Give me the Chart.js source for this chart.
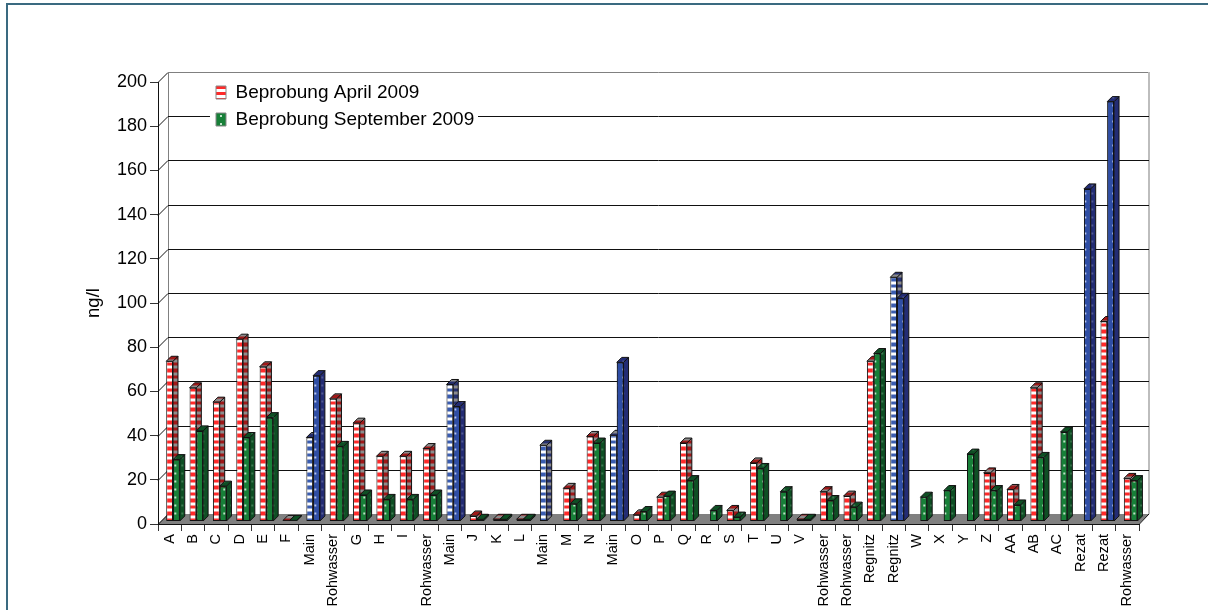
<!DOCTYPE html>
<html>
<head>
<meta charset="utf-8">
<style>
  html, body { margin: 0; padding: 0; background: #fff; overflow: hidden; }
  #wrap { position: relative; width: 1208px; height: 610px; overflow: hidden; }
  #frame { position: absolute; left: 6px; top: 3px; width: 1300px; height: 700px; border: 2px solid #3a6a80; }
  canvas { position: absolute; left: 0; top: 0; }
</style>
</head>
<body>
<div id="wrap">
  <div id="frame"></div>
  <canvas id="chart" width="1208" height="610"></canvas>
</div>
<script src="https://cdn.jsdelivr.net/npm/chart.js@4"></script>
<script>
const categories = ["A", "B", "C", "D", "E", "F", "Main", "Rohwasser", "G", "H", "I", "Rohwasser", "Main", "J", "K", "L", "Main", "M", "N", "Main", "O", "P", "Q", "R", "S", "T", "U", "V", "Rohwasser", "Rohwasser", "Regnitz", "Regnitz", "W", "X", "Y", "Z", "AA", "AB", "AC", "Rezat", "Rezat", "Rohwasser"];
const april = [72.5, 60.5, 54, 82.5, 70, 0.5, 38, 55.5, 44.5, 29.5, 29.5, 33, 62, 2.5, 1, 1, 34.5, 15, 38.5, 39, 3, 11, 35.5, null, 5, 26.5, null, 1, 13.5, 11.5, 72.5, 110.5, null, null, null, 22, 14.5, 60.5, null, null, 90.5, 19.5];
const september = [28, 41, 16, 38, 47, 0.5, 66, 34, 12, 10, 10, 12, 52, 1, 1, 1, null, 8, 35.5, 72, 4.5, 11.5, 18.5, 5, 2, 24, 13.5, 1, 9.5, 6.5, 76, 101, 11, 14, 30.5, 14, 7.5, 29, 40.5, 150.5, 190, 18.5];
const aprilBlue = [6, 12, 16, 19, 31];
const septemberBlue = [6, 12, 19, 31, 39, 40];
const yTicks = [0, 20, 40, 60, 80, 100, 120, 140, 160, 180, 200];

const FONT = "'Liberation Sans', Arial, sans-serif";
const WALL = 10;       // depth of the back wall
const BAR_DEPTH = 5;   // depth of a bar
const SHIFT_X = 3.3;   // bars stand a little inside the floor
const SHIFT_Y = -2.5;

function pattern(w, h, paint) {
  const c = document.createElement("canvas");
  c.width = w;
  c.height = h;
  paint(c.getContext("2d"));
  return document.getElementById("chart").getContext("2d").createPattern(c, "repeat");
}

// bands repeat every 6.5px in the reference, so the tile holds two of them
function stripes(a, b) {
  return pattern(1, 13, (p) => {
    p.fillStyle = a;
    p.fillRect(0, 0, 1, 13);
    p.fillStyle = b;
    p.fillRect(0, 1, 1, 3);
    p.fillRect(0, 7, 1, 4);
  });
}

function dots(base, dot) {
  return pattern(7, 8, (p) => {
    p.fillStyle = base;
    p.fillRect(0, 0, 7, 8);
    p.fillStyle = dot;
    p.fillRect(3, 3, 2, 2);
  });
}

const redFront = stripes("#ffffff", "#ff2a2a");
const redSide = stripes("#8c8c8c", "#a01818");
const blueFront = stripes("#ffffff", "#3a5cb0");
const blueSide = stripes("#8c8c8c", "#26306e");
const greenFront = dots("#178038", "#bfe3c8");
const greenSide = dots("#0e4f24", "#3f7a52");
const navyFront = dots("#2f4ea5", "#b8c6ee");
const navySide = dots("#232c74", "#515a92");

function fillFor(datasetIndex, i) {
  if (datasetIndex === 0) return aprilBlue.includes(i) ? blueFront : redFront;
  return septemberBlue.includes(i) ? navyFront : greenFront;
}

function sideFor(datasetIndex, i) {
  if (datasetIndex === 0) return aprilBlue.includes(i) ? blueSide : redSide;
  return septemberBlue.includes(i) ? navySide : greenSide;
}

function face(ctx, pts, fill) {
  ctx.beginPath();
  pts.forEach((p, k) => (k ? ctx.lineTo(p[0], p[1]) : ctx.moveTo(p[0], p[1])));
  ctx.closePath();
  ctx.fillStyle = fill;
  ctx.fill();
  ctx.stroke();
}

function drawDepth(chart, idx) {
  const { ctx } = chart;
  ctx.save();
  ctx.strokeStyle = "#111";
  ctx.lineWidth = 1;
  chart.getDatasetMeta(idx).data.forEach((bar, i) => {
    if (chart.data.datasets[idx].data[i] === null) return;
    const half = bar.width / 2;
    const l = bar.x - half;
    const r = bar.x + half;
    const fill = sideFor(idx, i);
    face(ctx, [[r, bar.y], [r + BAR_DEPTH, bar.y - BAR_DEPTH], [r + BAR_DEPTH, bar.base - BAR_DEPTH], [r, bar.base]], fill);
    face(ctx, [[l, bar.y], [l + BAR_DEPTH, bar.y - BAR_DEPTH], [r + BAR_DEPTH, bar.y - BAR_DEPTH], [r, bar.y]], fill);
  });
  ctx.restore();
}

// back wall, floor and the slanted grid lines
const wallPlugin = {
  id: "wall",
  beforeDraw(chart) {
    const { ctx, chartArea: a, scales } = chart;
    const right = a.right + WALL;
    const back = a.left + WALL;
    ctx.save();
    ctx.lineWidth = 1;
    ctx.fillStyle = "#808080";
    ctx.beginPath();
    ctx.moveTo(a.left, a.bottom);
    ctx.lineTo(a.right, a.bottom);
    ctx.lineTo(right, a.bottom - WALL);
    ctx.lineTo(back, a.bottom - WALL);
    ctx.closePath();
    ctx.fill();
    ctx.strokeStyle = "#808080";
    ctx.beginPath();
    ctx.moveTo(back + 0.5, a.bottom - WALL);
    ctx.lineTo(back + 0.5, a.top - WALL + 0.5);
    ctx.lineTo(right, a.top - WALL + 0.5);
    ctx.stroke();
    ctx.strokeStyle = "#bdbdbd";
    ctx.lineWidth = 2;
    ctx.beginPath();
    ctx.moveTo(right, a.top - WALL);
    ctx.lineTo(right, a.bottom - WALL);
    ctx.stroke();
    ctx.lineWidth = 1;
    ctx.strokeStyle = "#111";
    yTicks.forEach((v) => {
      const y = Math.round(scales.y.getPixelForValue(v)) + 0.5;
      ctx.beginPath();
      ctx.moveTo(a.left, y);
      ctx.lineTo(back, y - WALL);
      if (v > 0 && v < 200) ctx.lineTo(right, y - WALL);
      ctx.stroke();
    });
    ctx.beginPath();
    ctx.moveTo(a.right, a.bottom + 0.5);
    ctx.lineTo(right, a.bottom - WALL);
    ctx.stroke();
    // the legend sits on a white box that hides the grid lines
    ctx.fillStyle = "#fff";
    ctx.fillRect(210, 76, 268, 54);
    ctx.restore();
  },
  afterLayout(chart) {
    const l = chart.legend;
    const w = l.width;
    const h = l.height;
    l.left = 208;
    l.top = 75;
    l.right = l.left + w;
    l.bottom = l.top + h;
  },
  beforeDatasetsDraw(chart) {
    chart.ctx.save();
    chart.ctx.translate(SHIFT_X, SHIFT_Y);
  },
  // Chart.js paints the first dataset last, so the September bars go over the April sides here
  afterDatasetDraw(chart, args) {
    if (args.index !== 0) return;
    drawDepth(chart, 0);
    chart.getDatasetMeta(1).data.forEach((bar, i) => {
      if (september[i] !== null) bar.draw(chart.ctx);
    });
    drawDepth(chart, 1);
  },
  afterDatasetsDraw(chart) {
    chart.ctx.restore();
  },
};

new Chart(document.getElementById("chart"), {
  type: "bar",
  data: {
    labels: categories,
    datasets: [
      {
        label: "Beprobung April 2009",
        data: april,
        clip: false,
        backgroundColor: (c) => fillFor(0, c.dataIndex),
        borderColor: "#111",
        borderWidth: 1,
        borderSkipped: false,
        categoryPercentage: 0.58,
        barPercentage: 1,
      },
      {
        label: "Beprobung September 2009",
        data: september,
        clip: false,
        backgroundColor: (c) => fillFor(1, c.dataIndex),
        borderColor: "#111",
        borderWidth: 1,
        borderSkipped: false,
        categoryPercentage: 0.58,
        barPercentage: 1,
      },
    ],
  },
  options: {
    responsive: false,
    animation: false,
    layout: { padding: { left: 0, top: 82, right: 69, bottom: 0 } },
    plugins: {
      tooltip: { enabled: false },
      legend: {
        position: "chartArea",
        align: "start",
        labels: {
          boxWidth: 10,
          boxHeight: 13,
          padding: 8,
          color: "#000",
          font: { family: FONT, size: 19 },
          generateLabels: () => [
            { text: "Beprobung April 2009", fillStyle: redFront, strokeStyle: "#888", lineWidth: 1, datasetIndex: 0 },
            { text: "Beprobung September 2009", fillStyle: greenFront, strokeStyle: "#888", lineWidth: 1, datasetIndex: 1 },
          ],
        },
      },
    },
    scales: {
      x: {
        afterFit: (s) => { s.height = 86; },
        grid: { offset: true, drawOnChartArea: false, tickLength: 7, tickColor: "#333" },
        border: { color: "#111", width: 1 },
        ticks: {
          autoSkip: false,
          minRotation: 90,
          maxRotation: 90,
          padding: 3,
          color: "#000",
          font: { family: FONT, size: 14.5 },
        },
      },
      y: {
        min: 0,
        max: 200,
        afterFit: (s) => { s.width = 158; },
        afterBuildTicks: (s) => { s.ticks = yTicks.map((v) => ({ value: v })); },
        grid: { drawOnChartArea: false, tickLength: 8, tickColor: "#333" },
        border: { color: "#111", width: 1 },
        ticks: {
          padding: 3,
          color: "#000",
          font: { family: FONT, size: 18 },
        },
        title: {
          display: true,
          text: "ng/l",
          color: "#000",
          padding: { top: 83, bottom: 0 },
          font: { family: FONT, size: 18.5 },
        },
      },
    },
  },
  plugins: [wallPlugin],
});
</script>
</body>
</html>
